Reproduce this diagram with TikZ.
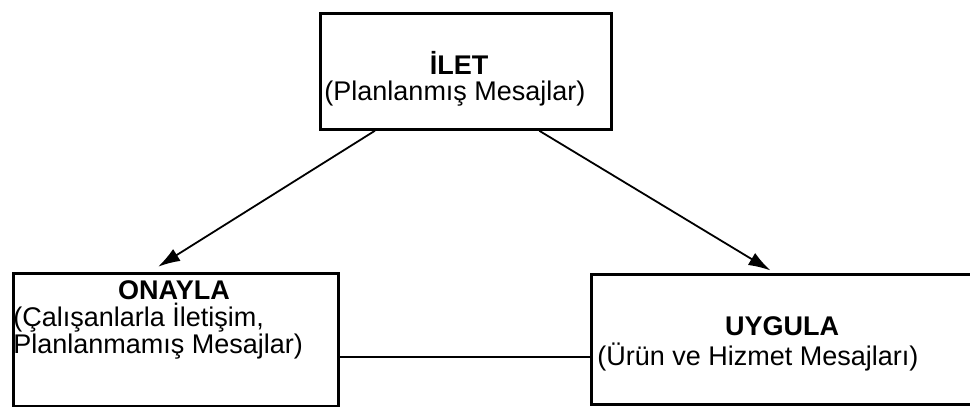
\documentclass[tikz,border=0pt]{standalone}
\usepackage{fontspec}
\setmainfont{Liberation Sans}
\usetikzlibrary{arrows.meta, calc}

\begin{document}
\begin{tikzpicture}[x=0.5pt, y=-0.5pt,
        box/.style={draw, line width=1.4pt, inner sep=0pt, anchor=north west},
        title/.style={font=\fontsize{13.5}{16}\selectfont\bfseries, inner sep=0pt},
        note/.style={font=\fontsize{13.5}{13.5}\selectfont, align=left, inner sep=0pt},
        link/.style={draw, line width=0.9pt, -{Latex[length=11pt, width=7pt]}}
      ]
      \useasboundingbox (0,0) rectangle (970,407);

      % the three boxes
      \node[box, minimum width=145.5pt, minimum height=58pt] (ilet) at (319,12) {};
      \node[box, minimum width=162.5pt, minimum height=66.5pt] (onayla) at (12,272) {};
      \node[box, minimum width=193pt, minimum height=65pt] (uygula) at (590,273) {};

      % texts
      \node[title, anchor=base] (ilet-title) at (459,74) {İLET};
      \node[note, anchor=base] (ilet-note) at (455,100) {(Planlanmış Mesajlar)};
      \node[title] (onayla-title) at (174,290) {ONAYLA};
      \node[note, anchor=west] (onayla-note) at (13,331) {(Çalışanlarla İletişim,\\Planlanmamış Mesajlar)};
      \node[title] (uygula-title) at (782,326) {UYGULA};
      \node[note, anchor=west] (uygula-note) at (597,357) {(Ürün ve Hizmet Mesajları)};

      % connectors
      \coordinate (joint) at (0,357);
      \draw[link, shorten >=5pt] ($(ilet.south west)!0.19!(ilet.south east)$)
          -- ($(onayla.north west)!0.42!(onayla.north east)$);
      \draw[link, shorten >=2.5pt] ($(ilet.south west)!0.75!(ilet.south east)$)
          -- ($(uygula.north west)!0.475!(uygula.north east)$);
      \draw[line width=0.9pt] (onayla.east |- joint) -- (uygula.west |- joint);

\end{tikzpicture}
\end{document}
